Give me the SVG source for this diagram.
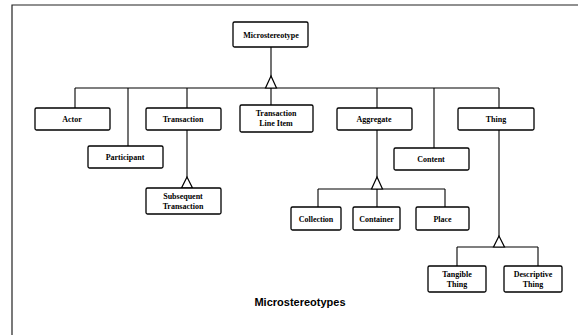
<svg xmlns="http://www.w3.org/2000/svg" width="578" height="335" viewBox="0 0 578 335">
<style>
.box{fill:#fff;stroke:#000;stroke-width:1.3}
.t{font-family:"Liberation Serif",serif;font-weight:bold;font-size:8px;fill:#000;text-anchor:middle}
.ln{fill:none;stroke:#000;stroke-width:1.1}
.tri{fill:#fff;stroke:#000;stroke-width:1.2}
.frame{fill:none;stroke:#222;stroke-width:1.2}
</style>
<rect width="578" height="335" fill="#fff"/>
<path class="frame" d="M12,335 V5 H578"/>
<g id="connectors">
<path class="ln" d="M271,47 V88 M75,88 H499 M75,88 V108 M128,88 V146 M187,88 V108 M271,88 V105 M377,88 V108 M434,88 V148 M499,88 V108"/>
<path class="tri" d="M271,76 L265.5,88 L276.5,88 Z"/>
<path class="ln" d="M187,130 V188"/>
<path class="tri" d="M187,177 L181.5,188 L192.5,188 Z"/>
<path class="ln" d="M377,130 V189 M318,189 H445 M318,189 V207 M377,189 V207 M445,189 V207"/>
<path class="tri" d="M377,177 L371.5,189 L382.5,189 Z"/>
<path class="ln" d="M499,130 V247 M457,247 H538 M457,247 V266 M538,247 V266"/>
<path class="tri" d="M499,236 L493.5,247 L504.5,247 Z"/>
</g>
<g id="n-microstereotype"><rect class="box" x="233" y="22" width="75" height="25" rx="1.5"/><text class="t" x="271" y="37.5">Microstereotype</text></g>
<g id="n-actor"><rect class="box" x="35" y="108" width="75" height="22" rx="1.5"/><text class="t" x="72" y="122">Actor</text></g>
<g id="n-participant"><rect class="box" x="88" y="146" width="75" height="22" rx="1.5"/><text class="t" x="125" y="160">Participant</text></g>
<g id="n-transaction"><rect class="box" x="146" y="108" width="75" height="22" rx="1.5"/><text class="t" x="183" y="122">Transaction</text></g>
<g id="n-tli"><rect class="box" x="240" y="105" width="73" height="27" rx="1.5"/><text class="t" x="276" y="116">Transaction</text><text class="t" x="276" y="126">Line Item</text></g>
<g id="n-aggregate"><rect class="box" x="337" y="108" width="75" height="22" rx="1.5"/><text class="t" x="374" y="122">Aggregate</text></g>
<g id="n-content"><rect class="box" x="394" y="148" width="75" height="22" rx="1.5"/><text class="t" x="431" y="162">Content</text></g>
<g id="n-thing"><rect class="box" x="458" y="108" width="76" height="22" rx="1.5"/><text class="t" x="496" y="122">Thing</text></g>
<g id="n-subsequent"><rect class="box" x="146" y="188" width="75" height="26" rx="1.5"/><text class="t" x="183" y="199">Subsequent</text><text class="t" x="183" y="209">Transaction</text></g>
<g id="n-collection"><rect class="box" x="291" y="207" width="50" height="23" rx="1.5"/><text class="t" x="316" y="221.5">Collection</text></g>
<g id="n-container"><rect class="box" x="353" y="207" width="47" height="23" rx="1.5"/><text class="t" x="376.5" y="221.5">Container</text></g>
<g id="n-place"><rect class="box" x="416" y="207" width="53" height="23" rx="1.5"/><text class="t" x="442.5" y="221.5">Place</text></g>
<g id="n-tangible"><rect class="box" x="428" y="266" width="58" height="26" rx="1.5"/><text class="t" x="457" y="277">Tangible</text><text class="t" x="457" y="287">Thing</text></g>
<g id="n-descriptive"><rect class="box" x="504" y="266" width="58" height="26" rx="1.5"/><text class="t" x="533" y="277">Descriptive</text><text class="t" x="533" y="287">Thing</text></g>
<text x="300" y="306" font-family="'Liberation Sans',Arial,sans-serif" font-weight="bold" font-size="11" text-anchor="middle" fill="#000">Microstereotypes</text>
</svg>
